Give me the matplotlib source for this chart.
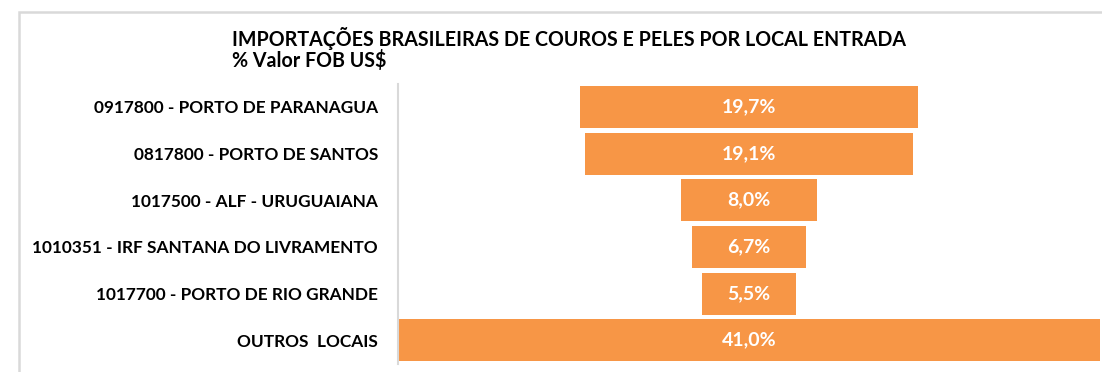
import matplotlib.pyplot as plt
from matplotlib.patches import Rectangle

# Dados: participação no valor FOB por local de entrada
locais = [
    '0917800 - PORTO DE PARANAGUA',
    '0817800 - PORTO DE SANTOS',
    '1017500 - ALF - URUGUAIANA',
    '1010351 - IRF SANTANA DO LIVRAMENTO',
    '1017700 - PORTO DE RIO GRANDE',
    'OUTROS  LOCAIS',
]
percentuais = [19.7, 19.1, 8.0, 6.7, 5.5, 41.0]

cor_barra = '#F79646'
plt.rcParams['font.family'] = ['Lato', 'DejaVu Sans']

fig = plt.figure(figsize=(11.02, 3.72), dpi=100)

# moldura cinza do gráfico (cortada à direita e embaixo)
fig.patches.append(Rectangle((18.5 / 1102, -0.1), 1.2, 1 - 12 / 372 + 0.1,
                             transform=fig.transFigure, fill=False,
                             edgecolor='#d9d9d9', linewidth=1.8))

ax = fig.add_axes([398 / 1102, 1 - 363.5 / 372, 702 / 1102, (363.5 - 83.5) / 372])

posicoes = list(range(len(locais)))
# funil: barras centradas em zero
esquerda = [-p / 2 for p in percentuais]
ax.barh(posicoes, percentuais, left=esquerda, height=0.9, color=cor_barra)

for y, p in zip(posicoes, percentuais):
    ax.text(0, y, f'{p:.1f}%'.replace('.', ','), ha='center', va='center',
            color='white', fontsize=14, fontweight='bold')

ax.set_xlim(-20.5, 20.5)
ax.set_ylim(len(locais) - 0.5, -0.5)
ax.set_yticks(posicoes)
ax.set_yticklabels(locais, fontsize=12.4, fontweight='bold')
ax.tick_params(axis='y', length=0, pad=14.4)
ax.set_xticks([])
for lado in ['top', 'right', 'bottom']:
    ax.spines[lado].set_visible(False)
ax.spines['left'].set_color('#d9d9d9')
ax.spines['left'].set_linewidth(1.5)

fig.text(232 / 1102, 1 - 38 / 372, 'IMPORTAÇÕES BRASILEIRAS DE COUROS E PELES POR LOCAL ENTRADA',
         ha='left', va='center', fontsize=14.1, fontweight='bold')
fig.text(232 / 1102, 1 - 60 / 372, '% Valor FOB US$',
         ha='left', va='center', fontsize=14.1, fontweight='bold')

fig.savefig('out.png', dpi=100)
